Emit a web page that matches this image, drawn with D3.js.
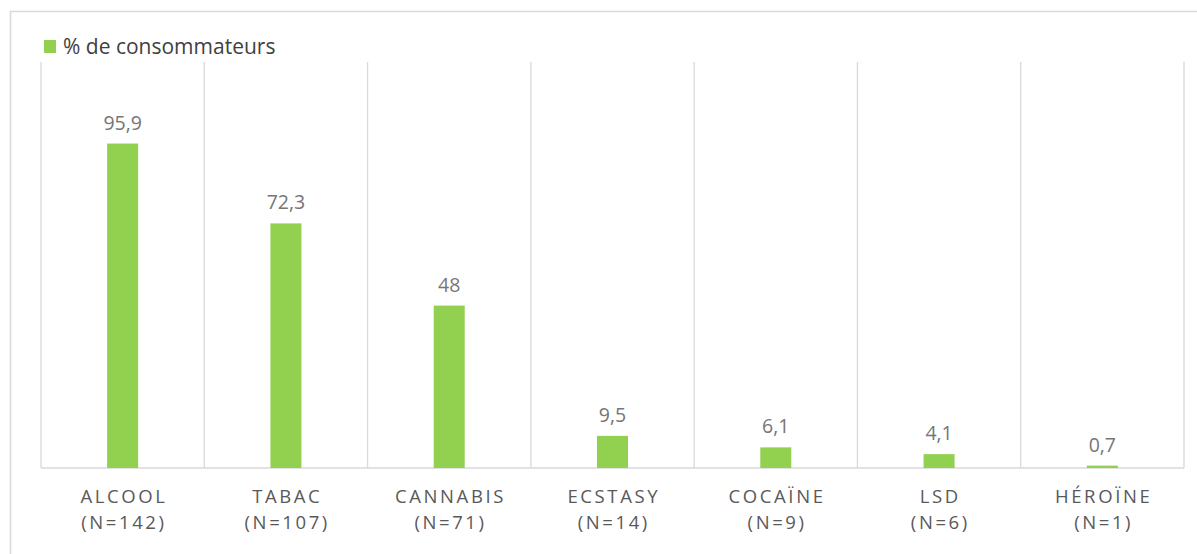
<!DOCTYPE html>
<html>
<head>
<meta charset="utf-8">
<script src="https://cdn.jsdelivr.net/npm/d3@7"></script>
<style>
  html, body { margin: 0; padding: 0; background: #fff; }
  svg { display: block; }
</style>
</head>
<body>
<svg id="chart" width="1197" height="554"></svg>
<script>
// Substances and respondent counts
const categories = ["ALCOOL", "TABAC", "CANNABIS", "ECSTASY", "COCAÏNE", "LSD", "HÉROÏNE"];
const counts = ["(N=142)", "(N=107)", "(N=71)", "(N=14)", "(N=9)", "(N=6)", "(N=1)"];
// Share of consumers (%)
const values = [95.9, 72.3, 48, 9.5, 6.1, 4.1, 0.7];
const valueLabels = ["95,9", "72,3", "48", "9,5", "6,1", "4,1", "0,7"];
const seriesName = "% de consommateurs";
const yDomain = [0, 120];

const svg = d3.select("#chart");
const W = 1197, H = 554;
const plot = { left: 41, right: 1184, top: 62, bottom: 468 };
const green = "#92d050";
const grid = "#d9d9d9";
const font = "'Open Sans', sans-serif";

// outer frame (top and left edges visible)
svg.append("rect")
  .attr("x", 10.5).attr("y", 11.5)
  .attr("width", W + 20).attr("height", H + 20)
  .attr("fill", "none").attr("stroke", "#d9d9d9").attr("stroke-width", 1.5);

const x = d3.scaleBand().domain(categories).range([plot.left, plot.right]).paddingInner(0).paddingOuter(0);
const y = d3.scaleLinear().domain(yDomain).range([plot.bottom, plot.top]);

// vertical category separators
const edges = categories.map(c => x(c)).concat([plot.right]);
svg.append("g").selectAll("line").data(edges).join("line")
  .attr("x1", d => d).attr("x2", d => d)
  .attr("y1", plot.top).attr("y2", plot.bottom)
  .attr("stroke", grid).attr("stroke-width", 1.3);

// baseline
svg.append("line")
  .attr("x1", plot.left).attr("x2", plot.right)
  .attr("y1", plot.bottom).attr("y2", plot.bottom)
  .attr("stroke", grid).attr("stroke-width", 1.5);

const barW = 31;
const data = categories.map((c, i) => ({ c, v: values[i], lab: valueLabels[i], n: counts[i] }));

svg.append("g").selectAll("rect").data(data).join("rect")
  .attr("x", d => x(d.c) + x.bandwidth() / 2 - barW / 2)
  .attr("y", d => y(d.v))
  .attr("width", barW)
  .attr("height", d => y(0) - y(d.v))
  .attr("fill", green);

svg.append("g").selectAll("text").data(data).join("text")
  .attr("x", d => x(d.c) + x.bandwidth() / 2)
  .attr("y", d => y(d.v) - 14)
  .attr("text-anchor", "middle")
  .attr("font-family", font)
  .attr("font-size", 19.5)
  .attr("fill", "#767676")
  .text(d => d.lab);

// category labels, two lines, letter-spaced
const cat = svg.append("g").selectAll("text").data(data).join("text")
  .attr("text-anchor", "middle")
  .attr("font-family", font)
  .attr("font-size", 18.5)
  .attr("letter-spacing", "2.6px")
  .attr("fill", "#595959");
cat.append("tspan")
  .attr("x", d => x(d.c) + x.bandwidth() / 2 + 1.3)
  .attr("y", 503)
  .text(d => d.c);
cat.append("tspan")
  .attr("x", d => x(d.c) + x.bandwidth() / 2 + 1.3)
  .attr("y", 529)
  .text(d => d.n);

// legend
svg.append("rect").attr("x", 44).attr("y", 40).attr("width", 12).attr("height", 13).attr("fill", green);
svg.append("text")
  .attr("x", 63).attr("y", 54)
  .attr("font-family", font)
  .attr("font-size", 21)
  .attr("fill", "#404040")
  .text(seriesName);
</script>
</body>
</html>
